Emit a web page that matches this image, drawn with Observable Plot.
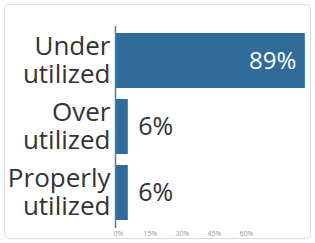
<!DOCTYPE html>
<html>
<head>
<meta charset="utf-8">
<script src="https://cdn.jsdelivr.net/npm/d3@7"></script>
<script src="https://cdn.jsdelivr.net/npm/@observablehq/plot@0.6"></script>
<style>
  html, body { margin: 0; padding: 0; background: #fff; }
  #wrap { position: relative; width: 315px; height: 243px; }
  #card { position: absolute; left: 4px; top: 4px; width: 305px; height: 233px; border: 1px solid #dcdcdc; border-radius: 5px; box-sizing: content-box; }
  #chart { position: absolute; left: 0; top: 0; }
</style>
</head>
<body>
<div id="wrap"><div id="card"></div><div id="chart"></div></div>
<script>
const categories = ["Under utilized", "Over utilized", "Properly utilized"];
const labelLine1 = ["Under", "Over", "Properly"];
const labelLine2 = ["utilized", "utilized", "utilized"];
const values = [89, 6, 6];
const labels = ["89%", "6%", "6%"];
const xTicks = [0, 15, 30, 45, 60];

const data = categories.map((c, i) => ({cat: c, l1: labelLine1[i], l2: labelLine2[i], value: values[i], label: labels[i]}));
const barColor = "#2f6b9b";

const chart = Plot.plot({
  width: 315,
  height: 243,
  marginLeft: 115,
  marginRight: 8,
  marginTop: 26,
  marginBottom: 15,
  style: {fontFamily: "'Open Sans', 'Noto Sans', sans-serif", background: "transparent"},
  x: {domain: [0, 90]},
  y: {domain: categories, paddingInner: 0.164, paddingOuter: 0.09, axis: null},
  marks: [
    Plot.barX(data, {y: "cat", x: "value", fill: barColor}),
    Plot.ruleX([0], {stroke: "#4f7ea8", strokeWidth: 1.5}),
    Plot.axisX({ticks: xTicks, tickSize: 0, tickPadding: 3, tickFormat: d => d + "%", fontSize: 7, fill: "#999", dx: 3, line: true, stroke: "#4f7ea8", strokeWidth: 1.5, label: null}),
    Plot.text(data, {y: "cat", x: 0, text: "l1", textAnchor: "end", dx: -5, dy: -14, fontSize: 26, fill: "#333"}),
    Plot.text(data, {y: "cat", x: 0, text: "l2", textAnchor: "end", dx: -5, dy: 14, fontSize: 26, fill: "#333"}),
    Plot.text(data.filter(d => d.value > 50), {y: "cat", x: "value", text: "label", textAnchor: "end", dx: -9, fontSize: 24, fill: "#fff"}),
    Plot.text(data.filter(d => d.value <= 50), {y: "cat", x: "value", text: "label", textAnchor: "start", dx: 10, fontSize: 25, fill: "#333"})
  ]
});
document.getElementById("chart").appendChild(chart);
</script>
</body>
</html>
